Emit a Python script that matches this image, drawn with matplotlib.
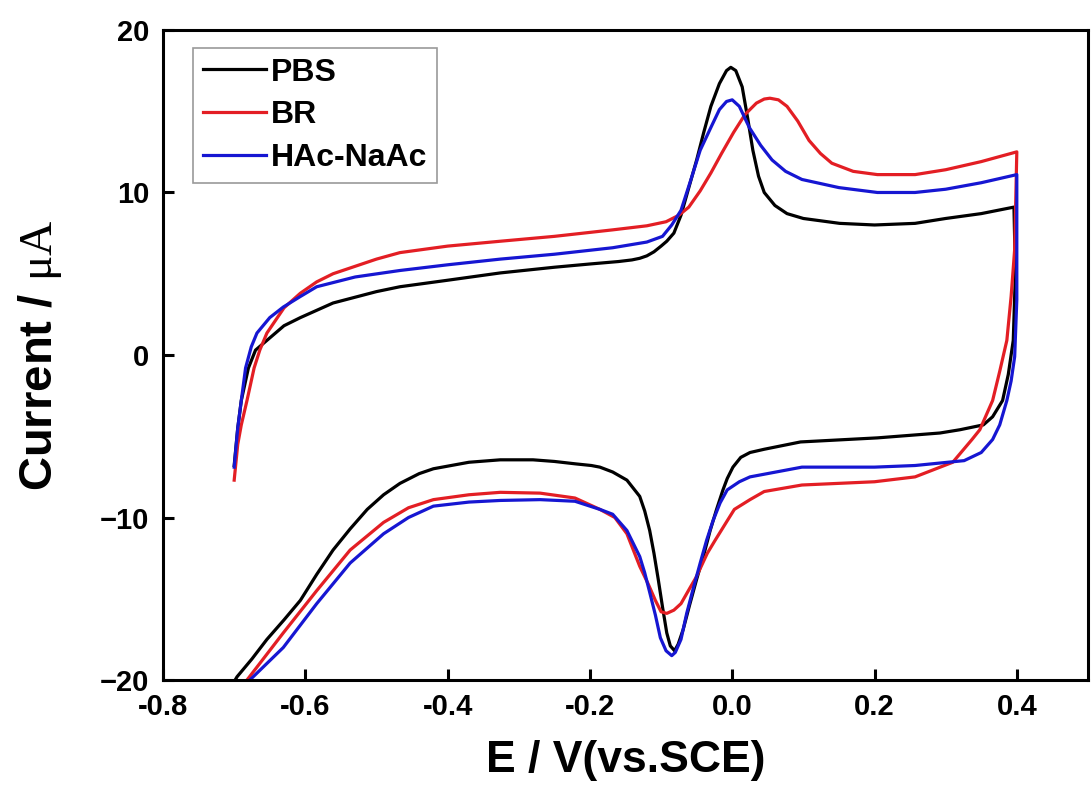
import matplotlib
matplotlib.use('Agg')
import matplotlib.pyplot as plt

plt.rcParams['font.family'] = ['Liberation Sans', 'DejaVu Sans']
plt.rcParams['mathtext.fontset'] = 'custom'
plt.rcParams['mathtext.rm'] = 'Liberation Serif'

# PBS: anodic scan (-0.7 -> 0.4) then cathodic scan back
pbs_x = [-0.70, -0.695, -0.69, -0.68, -0.67, -0.654, -0.63, -0.607, -0.561, -0.5, -0.467, -0.4,
         -0.326, -0.25, -0.2, -0.16, -0.141, -0.13, -0.12, -0.11, -0.1, -0.092, -0.082, -0.072,
         -0.061, -0.05, -0.04, -0.03, -0.018, -0.008, -0.002, 0.005, 0.014, 0.022, 0.029, 0.037,
         0.045, 0.06, 0.077, 0.1, 0.151, 0.2, 0.257, 0.3, 0.35, 0.396,
         0.398, 0.395, 0.388, 0.38, 0.366, 0.353, 0.32, 0.292, 0.204, 0.096, 0.045, 0.025, 0.012,
         0.001, -0.007, -0.013, -0.022, -0.031, -0.04, -0.05, -0.06, -0.069, -0.076, -0.081, -0.087,
         -0.092, -0.098, -0.104, -0.11, -0.116, -0.123, -0.13, -0.148, -0.168, -0.186, -0.198,
         -0.22, -0.25, -0.28, -0.326, -0.37, -0.42, -0.44, -0.467, -0.49, -0.513, -0.537, -0.561,
         -0.584, -0.607, -0.63, -0.654, -0.675, -0.696, -0.70]
pbs_y = [-6.8, -4.5, -2.8, -0.8, 0.3, 0.9, 1.8, 2.3, 3.2, 3.9, 4.2, 4.6,
         5.05, 5.4, 5.6, 5.75, 5.85, 5.95, 6.1, 6.35, 6.7, 7.0, 7.5, 8.6,
         10.3, 12.0, 13.7, 15.3, 16.7, 17.5, 17.7, 17.5, 16.5, 14.5, 12.6, 11.0,
         10.0, 9.2, 8.7, 8.4, 8.1, 8.0, 8.1, 8.4, 8.7, 9.1,
         5.0, 0.9, -1.2, -2.8, -3.8, -4.3, -4.6, -4.8, -5.1, -5.35, -5.8, -6.0, -6.3,
         -6.9, -7.6, -8.3, -9.5, -10.8, -12.3, -13.8, -15.4, -16.9, -17.8, -18.2, -17.9,
         -17.1, -15.5, -13.8, -12.2, -10.8, -9.6, -8.7, -7.7, -7.2, -6.9, -6.8,
         -6.7, -6.55, -6.45, -6.45, -6.6, -7.0, -7.3, -7.9, -8.6, -9.5, -10.7, -12.0,
         -13.5, -15.1, -16.3, -17.5, -18.7, -19.8, -20.1]

br_x = [-0.70, -0.695, -0.69, -0.682, -0.672, -0.664, -0.654, -0.63, -0.607, -0.584, -0.561, -0.5,
        -0.467, -0.4, -0.326, -0.25, -0.168, -0.12, -0.093, -0.075, -0.061, -0.045, -0.03, -0.015,
        0.002, 0.018, 0.034, 0.045, 0.053, 0.065, 0.077, 0.092, 0.108, 0.124, 0.14, 0.17, 0.204,
        0.257, 0.3, 0.35, 0.4,
        0.4, 0.397, 0.392, 0.386, 0.376, 0.366, 0.348, 0.337, 0.31, 0.257, 0.2, 0.098, 0.045,
        0.025, 0.003, -0.007, -0.024, -0.035, -0.051, -0.059, -0.072, -0.082, -0.092, -0.1,
        -0.108, -0.118, -0.13, -0.148, -0.165, -0.186, -0.221, -0.27, -0.326, -0.37, -0.42,
        -0.455, -0.49, -0.537, -0.584, -0.631, -0.682, -0.70]
br_y = [-7.7, -5.5, -4.3, -2.8, -0.8, 0.3, 1.35, 2.9, 3.8, 4.5, 5.0, 5.9,
        6.3, 6.7, 7.0, 7.3, 7.7, 7.95, 8.2, 8.6, 9.1, 10.1, 11.2, 12.4,
        13.7, 14.8, 15.5, 15.75, 15.8, 15.7, 15.3, 14.4, 13.2, 12.4, 11.8, 11.3, 11.1,
        11.1, 11.4, 11.9, 12.5,
        12.5, 6.5, 3.6, 0.9, -1.0, -2.8, -4.6, -5.2, -6.6, -7.5, -7.8, -8.0, -8.4,
        -8.9, -9.5, -10.2, -11.4, -12.2, -13.7, -14.3, -15.3, -15.7, -15.9, -15.8,
        -15.1, -14.1, -13.0, -11.0, -10.0, -9.5, -8.8, -8.5, -8.45, -8.6, -8.9,
        -9.4, -10.3, -12.0, -14.5, -17.1, -20.0, -21.0]

hac_x = [-0.70, -0.695, -0.69, -0.684, -0.676, -0.668, -0.65, -0.631, -0.607, -0.584, -0.53, -0.467,
         -0.4, -0.326, -0.25, -0.168, -0.12, -0.098, -0.085, -0.072, -0.058, -0.045, -0.03, -0.018,
         -0.008, 0.0, 0.01, 0.024, 0.04, 0.056, 0.075, 0.098, 0.15, 0.204, 0.257, 0.3, 0.35, 0.4,
         0.4, 0.4, 0.397, 0.392, 0.386, 0.376, 0.366, 0.35, 0.326, 0.257, 0.2, 0.098, 0.025, 0.01,
         -0.007, -0.017, -0.027, -0.036, -0.045, -0.055, -0.064, -0.072, -0.08, -0.085, -0.093,
         -0.101, -0.108, -0.116, -0.123, -0.13, -0.148, -0.168, -0.186, -0.221, -0.27, -0.326,
         -0.37, -0.42, -0.455, -0.49, -0.537, -0.584, -0.631, -0.678, -0.70]
hac_y = [-6.9, -4.5, -2.8, -0.8, 0.5, 1.35, 2.3, 2.95, 3.6, 4.2, 4.8, 5.2,
         5.55, 5.9, 6.2, 6.6, 6.95, 7.3, 8.0, 8.9, 10.8, 12.6, 14.0, 15.1,
         15.6, 15.7, 15.3, 14.0, 12.9, 12.0, 11.3, 10.8, 10.3, 10.0, 10.0, 10.2, 10.6, 11.1,
         11.1, 3.4, -0.1, -1.6, -2.8, -4.3, -5.2, -6.0, -6.5, -6.8, -6.9, -6.9, -7.5, -7.8,
         -8.3, -9.1, -10.2, -11.4, -12.8, -14.4, -15.9, -17.5, -18.3, -18.5, -18.2,
         -17.4, -16.0, -14.6, -13.4, -12.4, -10.8, -9.8, -9.5, -9.0, -8.9, -8.95,
         -9.05, -9.3, -10.0, -11.0, -12.8, -15.3, -18.0, -20.0, -21.3]

x_ticks = [-0.8, -0.6, -0.4, -0.2, 0.0, 0.2, 0.4]
y_ticks = [-20, -10, 0, 10, 20]

fig = plt.figure(figsize=(10.92, 7.99), dpi=100)
ax = fig.add_axes([0.1493, 0.1489, 0.8470, 0.8136])

ax.plot(pbs_x, pbs_y, color='black', lw=2.3, label='PBS')
ax.plot(br_x, br_y, color='#e31e24', lw=2.3, label='BR')
ax.plot(hac_x, hac_y, color='#1616d2', lw=2.3, label='HAc-NaAc')

ax.set_xlim(-0.8, 0.5)
ax.set_ylim(-20, 20)
ax.set_xticks(x_ticks)
ax.set_xticklabels(['%.1f' % v for v in x_ticks])
ax.set_yticks(y_ticks)

for s in ax.spines.values():
    s.set_linewidth(2.2)
ax.tick_params(direction='in', length=8, width=2.2, labelsize=21, top=False, right=False)
ax.tick_params(axis='x', pad=9)
ax.tick_params(axis='y', pad=10)
for lb in ax.get_xticklabels() + ax.get_yticklabels():
    lb.set_fontweight('bold')

ax.set_xlabel('E / V(vs.SCE)', fontsize=32, fontweight='bold', labelpad=14)
ax.set_ylabel(r'Current / $\mathrm{\mu A}$', fontsize=34, fontweight='bold', labelpad=26)

leg = ax.legend(loc='upper left', bbox_to_anchor=(0.0324, 0.9723), fontsize=23, frameon=True,
                fancybox=False, edgecolor='#808080', handlelength=2.0, handletextpad=0.15,
                labelspacing=0.4, borderpad=0.3, borderaxespad=0)
leg.get_frame().set_linewidth(1.2)
for t in leg.get_texts():
    t.set_fontweight('bold')

fig.savefig('out.png', dpi=100)
